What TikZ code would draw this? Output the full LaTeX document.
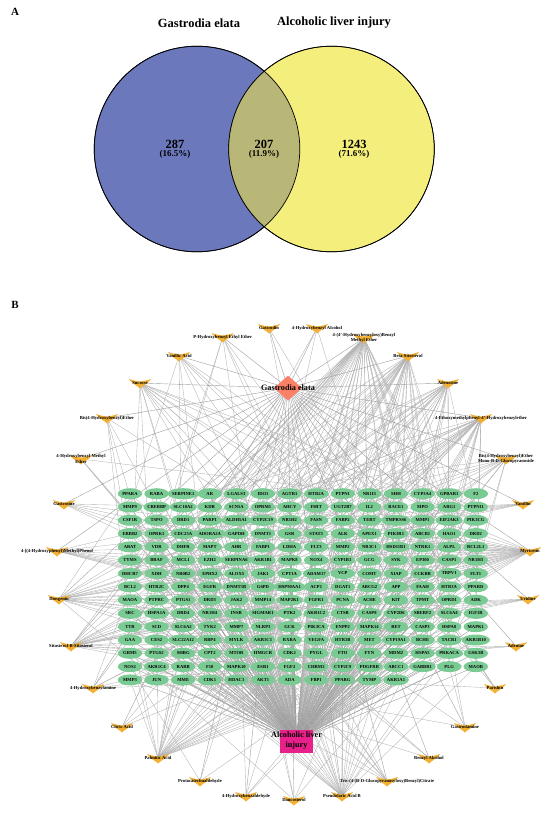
\documentclass[tikz,border=0pt]{standalone}
\usepackage{fontspec}
\setmainfont{Liberation Serif}
\usetikzlibrary{shapes.geometric,backgrounds}
\definecolor{setblue}{HTML}{6C78BC}
\definecolor{setyellow}{HTML}{F4EE7C}
\definecolor{setboth}{HTML}{B9B777}
\definecolor{genegreen}{HTML}{7ACB93}
\definecolor{druggold}{HTML}{F2B035}
\definecolor{hubred}{HTML}{FA8068}
\definecolor{hubpink}{HTML}{E8208A}
\tikzset{
  tiny/.style = {font=\fontsize{4.6}{5.4}\selectfont\bfseries, inner sep=0pt,
    align=center},
  gene/.style = {tiny, ellipse, fill=genegreen, minimum width=24.5pt,
    minimum height=11pt},% target
  drug/.style = {tiny},% compound label
  vee/.style = {fill=druggold},
  link/.style = {draw=gray!60, line width=0.35pt},
  spoke/.style = {draw=gray!75, line width=0.4pt},
  hubtext/.style = {font=\fontsize{8.2}{10}\selectfont\bfseries, inner sep=0pt,
    align=center},
  setc/.style = {circle, draw=black, line width=0.7pt, minimum size=205.6pt,
    inner sep=0pt},
  title/.style = {font=\fontsize{12.5}{14}\selectfont\bfseries, inner sep=0pt},
  num/.style = {font=\fontsize{12.5}{14}\selectfont\bfseries, inner sep=0pt},
  pct/.style = {font=\fontsize{9}{10}\selectfont\bfseries, inner sep=0pt},
  panel/.style = {font=\fontsize{11}{12}\selectfont\bfseries, inner sep=0pt}
}

\begin{document}
\begin{tikzpicture}[x=1pt,y=-1pt]
\useasboundingbox (0,0) rectangle (550,813);

% panel A
\node [panel] (lblA) at (15,12) {A};
\node [title] (nameG) at (199,23) {Gastrodia elata};
\node [title] (nameA) at (334,23) {Alcoholic liver injury};
\node [setc, fill=setblue] (setG) at (197,149) {};
\node [setc, fill=setyellow] (setA) at (331.5,149) {};
\begin{scope}
  \clip (197,149) circle (102.8);
  \fill [setboth] (331.5,149) circle (102.8);
\end{scope}
\node [setc] (ringG) at (197,149) {};
\node [setc] (ringA) at (331.5,149) {};
\node [num] (n1) at (175,144) {287};
\node [pct] (p1) at (175,154.5) {(16.5\%)};
\node [num] (n2) at (264,144) {207};
\node [pct] (p2) at (264,154.5) {(11.9\%)};
\node [num] (n3) at (354,144) {1243};
\node [pct] (p3) at (354,154.5) {(71.6\%)};

% panel B
\node [panel] (lblB) at (15,305) {B};
\node [diamond, fill=hubred, minimum width=28pt, minimum height=25pt, inner sep=0pt]
  (hubG) at (288,388) {};
\node [rectangle, fill=hubpink, minimum width=33pt, minimum height=23pt, inner sep=0pt]
  (hubA) at (296.5,741) {};

\foreach \row [count=\r] in {
  {PPARA,RARA,SERPINE1,AR,LGALS3,IDO1,AGTR1,HTR2A,PTPN1,NR1I3,SHH,CYP3A4,GPBAR1,F2},
  {MMP9,CREBBP,SLC10A2,KDR,SCN5A,OPRM1,AHCY,FHIT,UGT2B7,IL2,BACE1,MPO,ARG1,PTPN11},
  {CSF1R,TSPO,DRD1,PARP1,ALDH5A1,CYP2C19,NR1H2,FASN,FABP2,TERT,TMPRSS6,MMP1,EIF2AK3,PIK3CG},
  {ERBB2,OPRK1,CDC25A,ADORA2A,GAPDH,DNMT1,GSR,STAT3,ALK,APEX1,PIK3R1,ABCB1,HAO1,DRD2},
  {ABAT,VDR,DHFR,MAPT,AHR,FABP1,LDHA,FLT3,MMP2,NR3C1,HSD11B1,NTRK1,ALPL,BCL2L1},
  {TYMS,BRAF,MCL1,EZH2,SERPINA6,AKR1B1,MAPK8,NOX4,CYP1B1,GCG,SYK,EP300,CASP1,NR1H3},
  {DHCR7,XDH,NR0B2,EPHX2,ALOX5,JAK1,CPT1A,ADAM17,VCP,COMT,XIAP,CCKBR,TRPV1,FLT1},
  {BCL2,HTR2C,DPP4,EGFR,DNMT3B,G6PD,HSP90AA1,ACP1,DGAT1,ABCG2,APP,FAAH,HTR3A,PPARD},
  {MAOA,PTPRC,PTGS1,DRD3,JAK2,MMP14,MAP2K1,FGFR1,PCNA,ACHE,KIT,TPMT,OPRD1,ADK},
  {SRC,HSPA1A,DRD4,NR1H4,INSR,SIGMAR1,PTK2,AKR1C2,CTSB,CASP8,CYP2D6,SREBF2,SLC6A4,IGF1R},
  {TTR,SCD,SLC6A2,TYK2,MMP7,NLRP3,GCK,PIK3CA,ENPP2,MAPK14,RET,CASP3,HSPA8,MAPK1},
  {GAA,CES2,SLC22A12,RBP4,MYLK,AKR1C1,RXRA,VEGFA,HTR1B,MET,CYP19A1,BCHE,TACR1,AKR1B10},
  {GRM5,PTGS2,SHBG,CPT2,MTOR,HMGCR,CDK2,PYGL,FTO,FYN,MDM2,HSPA5,PRKACA,GSK3B},
  {NOS2,AKR1C4,RARB,F10,MAPK10,ESR1,FGF2,CHRM2,CYP2C9,PDGFRB,ABCC1,GABBR1,PLG,MAOB},
  {MMP3,JUN,MME,CDK1,HDAC1,AKT1,ADA,FBP1,PPARG,TYMP,AKR1A1}}
{
  \foreach \g [count=\c] in \row {
    \pgfmathtruncatemacro\k{(\r-1)*14+\c}
    \node [gene] (t\k) at ({130+26.6*(\c-1)},{493.7+13.3*(\r-1)}) {\g};
    \begin{pgfonlayer}{background}
      \draw [spoke] (hubA.center) -- (t\k.center);
    \end{pgfonlayer}
  }
}

% x/y/number of links/first target/stride/name
\foreach \x/\y/\n/\s/\d/\t [count=\m] in {
  269/328/2/30/61/{Gastrodin},
  222.7/337/6/20/37/{P-Hydroxybenzyl Ethyl Ether},
  179/356/8/60/23/{Vanillic Acid},
  140/383/14/10/17/{Sucrose},
  107/418/5/58/41/{Bis(4-Hydroxybenzyl)Ether},
  81/459/4/100/29/{4-Hydroxybenzyl Methyl\\Ether},
  317/328/3/70/19/{4-Hydroxybenzyl Alcohol},
  364/338/42/5/13/{4-(4'-Hydroxybenzyloxy)Benzyl\\Methyl Ether},
  408/356/32/40/11/{Beta-Sitosterol},
  448/383/24/90/8/{Adenosine},
  481/418/30/60/17/{4-Ethoxymethylphenyl-4'-Hydroxybenzylether},
  506/459/12/25/31/{Bis(4-Hydroxybenzyl)Ether\\Mono-B-D-Glucopyranoside},
  64/504/6/3/14/{Gastrosine},
  57/551/11/15/15/{4-[(4-Hydroxyphenyl)Methyl]Phenol},
  59/599/22/57/10/{Diosgenin},
  71/646/22/85/11/{Situsterol-B-Sitosterol},
  93/688/7/140/16/{4-Hydroxybenzylamine},
  523/504/6/14/14/{Vanillin},
  530/551/32/28/7/{Myricetin},
  528/599/6/112/14/{Uridine},
  516/646/3/154/14/{Adenine},
  495/688/3/190/13/{Parishin},
  122/727/3/155/15/{Citric Acid},
  158/758/26/120/4/{Palmitic Acid},
  200/781/3/120/31/{Protocatechualdehyde},
  246/796/4/100/37/{4-Hydroxybenzaldehyde},
  294/800/5/130/19/{Daucosterol},
  342/796/26/110/5/{Pseudolaric Acid B},
  387/781/7/90/27/{Tris-(4-(B-D-Glucopyranosyloxy)Benzyl)Citrate},
  429/758/3/180/9/{Benzyl Alcohol},
  465/727/4/170/12/{Gastrodamine}}
{
  \fill [vee, shift={(\x,\y)}] (-11,-4) .. controls (-6,-2.5) and (-3,-1.5) .. (0,-1.5)
    .. controls (3,-1.5) and (6,-2.5) .. (11,-4)
    .. controls (8,1) and (2.5,2.5) .. (0,5.5)
    .. controls (-2.5,2.5) and (-8,1) .. cycle;
  \node [drug] (m\m) at (\x,\y) {\t};
  \begin{pgfonlayer}{background}
    \draw [spoke] (hubG.center) -- (m\m.center);
    \foreach \j in {1,...,\n} {
      \pgfmathtruncatemacro\k{mod(\s+\j*\d,207)+1}
      \draw [link] (m\m.center) -- (t\k.center);
    }
  \end{pgfonlayer}
}

\node [hubtext] (nameGE) at (288,388) {Gastrodia elata};
\node [hubtext] (nameLI) at (296.5,741) {Alcoholic liver\\injury};
\end{tikzpicture}
\end{document}
